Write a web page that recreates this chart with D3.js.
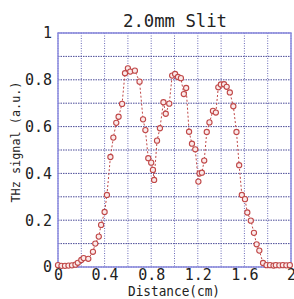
<!DOCTYPE html>
<html>
<head>
<meta charset="utf-8">
<script src="https://cdn.jsdelivr.net/npm/d3@7"></script>
<style>
  body { margin: 0; background: #fff; }
  text { font-family: "DejaVu Sans Mono", monospace; fill: #222; }
</style>
</head>
<body>
<div id="chart"></div>
<script>
// data
var distance = [0.00, 0.03, 0.06, 0.09, 0.12, 0.15, 0.17, 0.20, 0.22, 0.26,
                0.30, 0.32, 0.35, 0.37, 0.40, 0.42, 0.45, 0.475, 0.50, 0.52,
                0.55, 0.575, 0.60, 0.62, 0.66, 0.70, 0.73, 0.75, 0.775, 0.80,
                0.815, 0.825, 0.85, 0.875, 0.905, 0.925, 0.955, 0.98, 1.005, 1.03,
                1.055, 1.08, 1.10, 1.125, 1.15, 1.178, 1.205, 1.215, 1.235, 1.255,
                1.277, 1.30, 1.33, 1.355, 1.376, 1.398, 1.425, 1.448, 1.475, 1.505,
                1.532, 1.555, 1.578, 1.605, 1.625, 1.655, 1.682, 1.705, 1.728, 1.76,
                1.79, 1.82, 1.85, 1.87, 1.90, 1.93, 1.96, 1.99];
var signal = [0.008, 0.005, 0.005, 0.006, 0.007, 0.010, 0.018, 0.030, 0.038, 0.035,
              0.065, 0.100, 0.130, 0.180, 0.235, 0.308, 0.470, 0.553, 0.616, 0.642,
              0.697, 0.828, 0.849, 0.835, 0.839, 0.792, 0.631, 0.585, 0.465, 0.446,
              0.415, 0.372, 0.540, 0.593, 0.704, 0.655, 0.698, 0.818, 0.825, 0.812,
              0.807, 0.739, 0.765, 0.578, 0.527, 0.503, 0.365, 0.400, 0.403, 0.455,
              0.577, 0.618, 0.667, 0.660, 0.768, 0.780, 0.781, 0.770, 0.746, 0.687,
              0.577, 0.435, 0.308, 0.290, 0.233, 0.198, 0.146, 0.097, 0.070, 0.017,
              0.008, 0.008, 0.006, 0.008, 0.007, 0.008, 0.007, 0.008];
var xTicks = [0, 0.4, 0.8, 1.2, 1.6, 2];
var yTicks = [0, 0.2, 0.4, 0.6, 0.8, 1];
var xGrid = d3.range(0, 2.01, 0.2);
var yGrid = d3.range(0, 1.01, 0.1);

var data = distance.map(function(d, i) { return {x: d, y: signal[i]}; });

var margin = {top: 33, right: 3, bottom: 32, left: 58},
    width = 294 - margin.left - margin.right,
    height = 299 - margin.top - margin.bottom;

var x = d3.scaleLinear().domain([0, 2]).range([0, width]);
var y = d3.scaleLinear().domain([0, 1]).range([height, 0]);

var svg = d3.select("#chart").append("svg")
    .attr("width", 294)
    .attr("height", 299);

var g = svg.append("g")
    .attr("transform", "translate(" + margin.left + "," + margin.top + ")");

// grid
g.selectAll(".vgrid").data(xGrid).enter().append("line")
    .attr("x1", function(d) { return x(d); })
    .attr("x2", function(d) { return x(d); })
    .attr("y1", 0).attr("y2", height)
    .attr("stroke", "#6a6ab8")
    .attr("stroke-width", 1)
    .attr("stroke-dasharray", "1,1.5");

g.selectAll(".hgrid").data(yGrid).enter().append("line")
    .attr("y1", function(d) { return y(d); })
    .attr("y2", function(d) { return y(d); })
    .attr("x1", 0).attr("x2", width)
    .attr("stroke", "#4a4a98")
    .attr("stroke-width", 1)
    .attr("stroke-dasharray", "1.5,1");

// frame
g.append("rect")
    .attr("width", width).attr("height", height)
    .attr("fill", "none")
    .attr("stroke", "#8c8ce0")
    .attr("stroke-width", 1.5);

// tick labels
var xAxis = d3.axisBottom(x).tickValues(xTicks).tickSize(0).tickPadding(2)
    .tickFormat(function(d) { return d3.format("")(d); });
g.append("g")
    .attr("transform", "translate(0," + height + ")")
    .call(xAxis)
    .call(function(s) { s.select(".domain").remove(); })
    .selectAll("text")
      .attr("font-size", 15)
      .attr("fill", "#222")
      .attr("font-family", "DejaVu Sans Mono");

var yAxis = d3.axisLeft(y).tickValues(yTicks).tickSize(0).tickPadding(6)
    .tickFormat(function(d) { return d3.format("")(d); });
g.append("g")
    .call(yAxis)
    .call(function(s) { s.select(".domain").remove(); })
    .selectAll("text")
      .attr("font-size", 15)
      .attr("fill", "#222")
      .attr("font-family", "DejaVu Sans Mono");

// data line + markers
var line = d3.line()
    .x(function(d) { return x(d.x); })
    .y(function(d) { return y(d.y); });

g.append("path")
    .datum(data)
    .attr("d", line)
    .attr("fill", "none")
    .attr("stroke", "#c04848")
    .attr("stroke-width", 1)
    .attr("stroke-dasharray", "2,2");

g.selectAll(".pt").data(data).enter().append("circle")
    .attr("cx", function(d) { return x(d.x); })
    .attr("cy", function(d) { return y(d.y); })
    .attr("r", 2.6)
    .attr("fill", "#fbeaea")
    .attr("stroke", "#c04848")
    .attr("stroke-width", 1.1);

// labels
svg.append("text")
    .attr("x", 175).attr("y", 27)
    .attr("text-anchor", "middle")
    .attr("font-size", 18)
    .attr("textLength", 104)
    .attr("lengthAdjust", "spacingAndGlyphs")
    .text("2.0mm Slit");

svg.append("text")
    .attr("x", 174).attr("y", 296)
    .attr("text-anchor", "middle")
    .attr("font-size", 14)
    .attr("textLength", 92)
    .attr("lengthAdjust", "spacingAndGlyphs")
    .text("Distance(cm)");

svg.append("text")
    .attr("transform", "translate(20,142) rotate(-90)")
    .attr("text-anchor", "middle")
    .attr("font-size", 13)
    .attr("textLength", 121)
    .attr("lengthAdjust", "spacingAndGlyphs")
    .text("THz signal (a.u.)");
</script>
</body>
</html>
